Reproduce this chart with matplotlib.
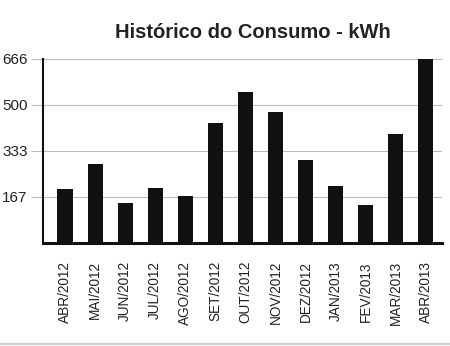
import matplotlib
matplotlib.use("Agg")
import matplotlib.pyplot as plt

plt.rcParams['font.family'] = ['Liberation Sans', 'DejaVu Sans']

# consumo mensal (kWh)
meses = ["ABR/2012", "MAI/2012", "JUN/2012", "JUL/2012", "AGO/2012", "SET/2012",
         "OUT/2012", "NOV/2012", "DEZ/2012", "JAN/2013", "FEV/2013", "MAR/2013", "ABR/2013"]
consumo = [195, 286, 146, 198, 169, 433, 548, 475, 300, 207, 137, 394, 666]
yticks = [167, 333, 500, 666]

fig = plt.figure(figsize=(4.5, 3.46), dpi=100)
ax = fig.add_axes([0.095, 0.2977, 0.887, 0.5318])

x = range(len(meses))
ax.bar(x, consumo, width=0.5, color="#111111", zorder=3)

ax.set_xlim(-0.74, len(meses) - 0.47)
ax.set_ylim(0, 666)
ax.set_yticks(yticks)
ax.set_yticklabels([str(v) for v in yticks], fontsize=11, color="#222222")
ax.set_xticks(list(x))
ax.set_xticklabels(meses, rotation=90, fontsize=9.8, color="#222222")
ax.tick_params(axis="x", length=0, pad=13)
ax.tick_params(axis="y", length=9, color="#bbbbbb", width=0.8, pad=2)
for v in yticks:
    ax.axhline(v, color="#bbbbbb", lw=0.8, zorder=1)

for s in ("top", "right"):
    ax.spines[s].set_visible(False)
ax.spines["left"].set_linewidth(1.5)
ax.spines["left"].set_color("#111111")
ax.spines["bottom"].set_linewidth(2.2)
ax.spines["bottom"].set_color("#111111")

fig.text(0.563, 0.905, "Histórico do Consumo - kWh", ha="center", va="center",
         fontsize=14.5, weight="bold", color="#222222")

# fio cinza no rodapé
fig.add_artist(plt.Line2D([0.0, 1.0], [0.006, 0.006], color="#cccccc", lw=1.5))

fig.savefig("out.png", dpi=100)
